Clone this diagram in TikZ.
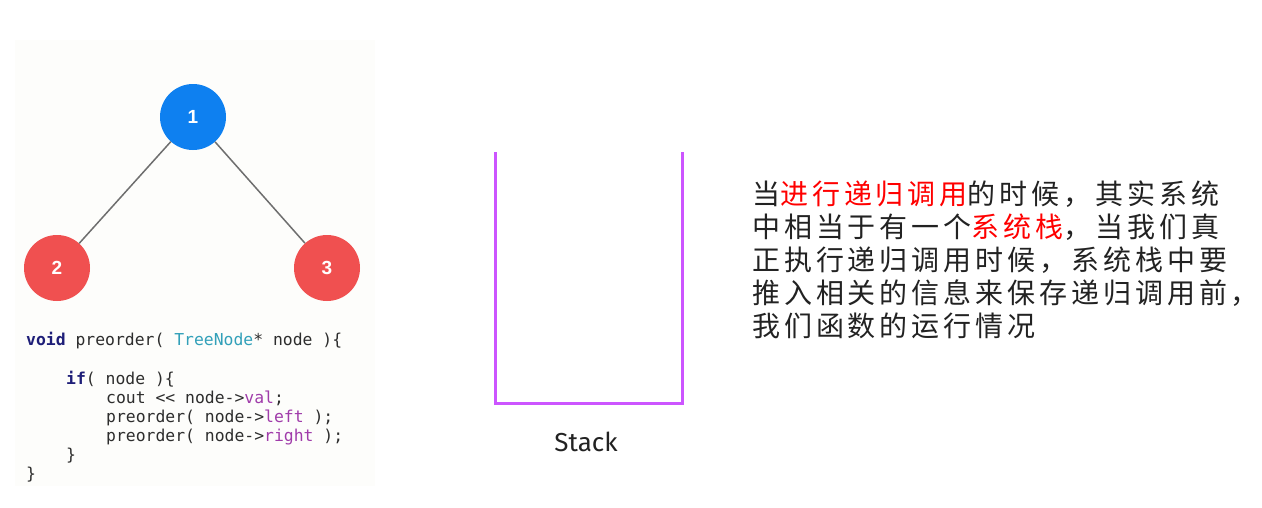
\documentclass[tikz,border=0pt]{standalone}
\usepackage{fontspec}
\setmainfont{Liberation Sans}
\newfontfamily\codefont{DejaVu Sans Mono}
\newfontfamily\cjk[LetterSpace=14]{Noto Sans CJK SC}
\newfontfamily\stackfont{Fira Sans}
\newfontfamily\numfont{Liberation Sans}
\definecolor{shotbg}{RGB}{253,253,251}
\definecolor{bluenode}{RGB}{14,128,240}
\definecolor{rednode}{RGB}{240,80,80}
\definecolor{edgegray}{RGB}{110,110,110}
\definecolor{kwcol}{RGB}{30,30,120}
\definecolor{typecol}{RGB}{50,160,185}
\definecolor{fieldcol}{RGB}{160,60,170}
\definecolor{codecol}{RGB}{45,45,45}
\definecolor{stackcol}{RGB}{204,85,255}
\definecolor{txtcol}{RGB}{34,34,34}
\definecolor{hlred}{RGB}{255,0,0}
\begin{document}
\begin{tikzpicture}[x=1pt,y=-1pt,
  treenode/.style={circle,minimum size=66pt,inner sep=0pt,text=white,font=\numfont\fontsize{19}{22}\selectfont\bfseries},
  treeedge/.style={draw=edgegray,line width=1.5pt},
  codeline/.style={anchor=base west,inner sep=0pt,text=codecol,font=\codefont\fontsize{16.4}{19}\selectfont},
  cjkline/.style={anchor=base west,inner sep=0pt,text=txtcol,font=\cjk\fontsize{28}{33}\selectfont},
  stackwall/.style={draw=stackcol,line width=3pt}]
\useasboundingbox (0,0) rectangle (1262,507);
\fill[shotbg] (15,40) rectangle (375,486);
% tree
\node[treenode,fill=bluenode] (n1) at (193,117) {1};
\node[treenode,fill=rednode] (n2) at (57,268) {2};
\node[treenode,fill=rednode] (n3) at (327,268) {3};
\draw[treeedge] (n1) -- (n2);
\draw[treeedge] (n1) -- (n3);
% code
\node[codeline] (c1) at (26,345) {\textbf{\textcolor{kwcol}{void}} preorder( \textcolor{typecol}{TreeNode}* node )\{};
\node[codeline] (c2) at (66,384) {\textbf{\textcolor{kwcol}{if}}( node )\{};
\node[codeline] (c3) at (106,403) {cout << node->\textcolor{fieldcol}{val};};
\node[codeline] (c4) at (106,422) {preorder( node->\textcolor{fieldcol}{left} );};
\node[codeline] (c5) at (106,441) {preorder( node->\textcolor{fieldcol}{right} );};
\node[codeline] (c6) at (66,460) {\}};
\node[codeline] (c7) at (26,479) {\}};
% stack
\coordinate (sTL) at (495,152);
\coordinate (sBL) at (495,403);
\coordinate (sBR) at (682,403);
\coordinate (sTR) at (682,152);
\draw[stackwall] (sTL) -- (sBL) -- (sBR) -- (sTR);
\node[text=txtcol,font=\stackfont\fontsize{26}{30}\selectfont,inner sep=0pt,anchor=base] (stk) at (586,451) {Stack};
% text
\node[cjkline] (t1) at (752,204) {当\textcolor{hlred}{进行递归调用}的时候，其实系统};
\node[cjkline] (t2) at (752,237) {中相当于有一个\textcolor{hlred}{系统栈}，当我们真};
\node[cjkline] (t3) at (752,270) {正执行递归调用时候，系统栈中要};
\node[cjkline] (t4) at (752,303) {推入相关的信息来保存递归调用前，};
\node[cjkline] (t5) at (752,336) {我们函数的运行情况};
\end{tikzpicture}
\end{document}
